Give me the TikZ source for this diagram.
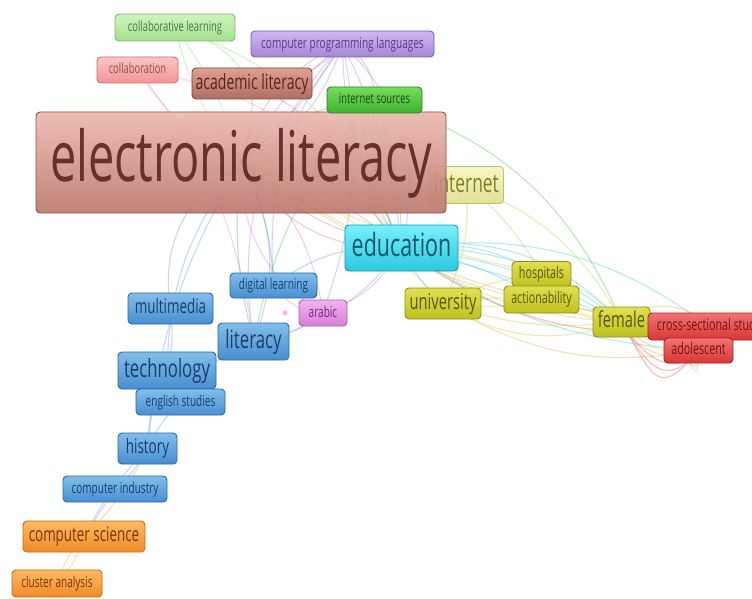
\documentclass[tikz,border=0pt]{standalone}
\usepackage{fontspec}
\setmainfont{Open Sans}
\usepackage{graphicx}
\newcommand{\sq}[1]{\scalebox{0.67}[1]{\rule[-0.24em]{0pt}{1.02em}#1}}
\definecolor{ePurple}{HTML}{A080E0}
\definecolor{eLgreen}{HTML}{90D878}
\definecolor{eGreen}{HTML}{40C040}
\definecolor{ePink}{HTML}{F09090}
\definecolor{eBrown}{HTML}{C08070}
\definecolor{eBlue}{HTML}{5A9AD8}
\definecolor{eMag}{HTML}{E070E0}
\definecolor{eCyan}{HTML}{30C8E0}
\definecolor{eYellow}{HTML}{C8C830}
\definecolor{eOrange}{HTML}{F0A040}
\definecolor{eRed}{HTML}{E84848}
\tikzset{
  kw/.style={rounded corners=4pt, line width=0.9pt, inner sep=0pt},
  fs/.style={font=\fontsize{#1}{#1}\selectfont},
  ed/.style={line width=1.1pt, opacity=0.36},
  kbrown/.style={top color={rgb,255:red,236;green,184;blue,174}, bottom color={rgb,255:red,186;green,118;blue,108}, draw={rgb,255:red,140;green,80;blue,72}, text={rgb,255:red,92;green,38;blue,32}},
  kbrown2/.style={top color={rgb,255:red,222;green,160;blue,146}, bottom color={rgb,255:red,176;green,110;blue,96}, draw={rgb,255:red,130;green,74;blue,64}, text={rgb,255:red,88;green,36;blue,30}},
  klgreen/.style={top color={rgb,255:red,206;green,244;blue,190}, bottom color={rgb,255:red,166;green,224;blue,142}, draw={rgb,255:red,124;green,184;blue,108}, text={rgb,255:red,72;green,122;blue,62}},
  kgreen/.style={top color={rgb,255:red,118;green,220;blue,96}, bottom color={rgb,255:red,62;green,178;blue,46}, draw={rgb,255:red,40;green,136;blue,30}, text={rgb,255:red,22;green,74;blue,14}},
  kpurple/.style={top color={rgb,255:red,208;green,184;blue,242}, bottom color={rgb,255:red,166;green,134;blue,214}, draw={rgb,255:red,124;green,94;blue,174}, text={rgb,255:red,88;green,58;blue,138}},
  kpink/.style={top color={rgb,255:red,252;green,196;blue,196}, bottom color={rgb,255:red,240;green,150;blue,150}, draw={rgb,255:red,208;green,112;blue,112}, text={rgb,255:red,160;green,72;blue,72}},
  kpale/.style={top color={rgb,255:red,246;green,246;blue,196}, bottom color={rgb,255:red,226;green,226;blue,150}, draw={rgb,255:red,190;green,190;blue,110}, text={rgb,255:red,126;green,126;blue,42}},
  kcyan/.style={top color={rgb,255:red,120;green,240;blue,250}, bottom color={rgb,255:red,44;green,200;blue,224}, draw={rgb,255:red,24;green,150;blue,176}, text={rgb,255:red,10;green,88;blue,110}},
  kyellow/.style={top color={rgb,255:red,224;green,224;blue,84}, bottom color={rgb,255:red,192;green,192;blue,30}, draw={rgb,255:red,144;green,144;blue,16}, text={rgb,255:red,88;green,88;blue,8}},
  kred/.style={top color={rgb,255:red,242;green,116;blue,116}, bottom color={rgb,255:red,216;green,54;blue,54}, draw={rgb,255:red,176;green,30;blue,30}, text={rgb,255:red,124;green,14;blue,14}},
  kblue/.style={top color={rgb,255:red,130;green,190;blue,234}, bottom color={rgb,255:red,72;green,142;blue,208}, draw={rgb,255:red,42;green,104;blue,166}, text={rgb,255:red,26;green,62;blue,110}},
  kmag/.style={top color={rgb,255:red,242;green,178;blue,242}, bottom color={rgb,255:red,214;green,126;blue,214}, draw={rgb,255:red,174;green,94;blue,174}, text={rgb,255:red,120;green,40;blue,120}},
  korange/.style={top color={rgb,255:red,255;green,186;blue,100}, bottom color={rgb,255:red,240;green,138;blue,40}, draw={rgb,255:red,200;green,106;blue,16}, text={rgb,255:red,120;green,56;blue,8}},
}
\begin{document}
\begin{tikzpicture}[x=1pt,y=-1pt]
\useasboundingbox[fill=white] (0,0) rectangle (752,599);
\path
 (175,27.5) coordinate (cl)
 (342.5,44) coordinate (cpl)
 (137.5,70) coordinate (collab)
 (252,83.5) coordinate (acad)
 (374.5,100) coordinate (isrc)
 (466.5,185) coordinate (inet)
 (241,162.5) coordinate (el)
 (401.5,248) coordinate (edu)
 (541.5,274) coordinate (hosp)
 (541.5,299.5) coordinate (act)
 (443,303.5) coordinate (univ)
 (621.5,322) coordinate (fem)
 (709,326.5) coordinate (css)
 (698.5,350.5) coordinate (adol)
 (273.5,285.5) coordinate (dl)
 (170.5,308.5) coordinate (mm)
 (323,313) coordinate (arab)
 (253.5,341.5) coordinate (lit)
 (167,370.5) coordinate (tech)
 (180.5,402) coordinate (eng)
 (147.5,448.5) coordinate (hist)
 (115,489) coordinate (ci)
 (84,536.5) coordinate (cs)
 (57,583.5) coordinate (ca);
% ---------- connectors
\foreach \b in {-25,-10,8,22}{\draw[ed,ePurple] (cpl) to[bend left=\b] (el);}
\foreach \b in {-15,10,30}{\draw[ed,ePurple] (cpl) to[bend left=\b] (edu);}
\draw[ed,ePurple] (cpl) to[bend right=25] (lit);
\draw[ed,ePurple] (cpl) to[bend right=20] (dl);
\draw[ed,ePurple] (cpl) to[bend left=25] (acad);
\draw[ed,ePurple] (cpl) to[bend left=30] (isrc);
\draw[ed,ePurple] (cpl) to[bend left=15] (arab);
\foreach \b in {-12,10}{\draw[ed,eLgreen] (cl) to[bend left=\b] (el);}
\draw[ed,eLgreen] (cl) to[bend left=25] (edu);
\draw[ed,eLgreen] (cl) to[bend left=20] (acad);
\foreach \b in {-35,-15,10}{\draw[ed,eGreen] (isrc) to[bend left=\b] (edu);}
\draw[ed,eGreen] (isrc) to[bend right=20] (el);
\draw[ed,eGreen] (isrc) to[bend right=15] (lit);
\draw[ed,eGreen] (isrc) to[bend left=25] (fem);
\draw[ed,ePink] (collab) to[bend right=15] (el);
\draw[ed,ePink] (collab) to[bend left=15] (lit);
\draw[ed,ePink] (collab) to[bend left=25] (edu);
\draw[ed,eBrown] (acad) to[bend left=10] (el);
\draw[ed,eBrown] (acad) to[bend left=20] (edu);
\foreach \b in {-30,-15,12,28}{\draw[ed,eBrown] (el) to[bend left=\b] (edu);}
\draw[ed,eBlue] (el) to[bend right=35] (mm);
\draw[ed,eBlue] (el) to[bend right=18] (tech);
\draw[ed,eBlue] (el) to[bend left=12] (dl);
\draw[ed,eBlue] (el) to[bend right=10] (lit);
\draw[ed,eBlue] (el) to[bend left=25] (lit);
\draw[ed,eBlue] (el) to[bend right=12] (hist);
\draw[ed,eBlue] (edu) to[bend left=20] (lit);
\draw[ed,eBlue] (edu) to[bend right=20] (dl);
\draw[ed,eBlue] (mm) to[bend left=10] (tech);
\draw[ed,eBlue] (tech) to (eng);
\draw[ed,eBlue] (eng) to[bend right=10] (hist);
\draw[ed,eBlue] (tech) to[bend right=12] (hist);
\draw[ed,eBlue] (hist) to[bend left=10] (ci);
\draw[ed,eBlue] (hist) to[bend right=8] (cs);
\draw[ed,eBlue] (ci) to (cs);
\draw[ed,eBlue] (lit) to[bend left=15] (tech);
\foreach \b in {-20,30}{\draw[ed,eMag] (arab) to[bend left=\b] (el);}
\draw[ed,eMag] (arab) to[bend right=20] (edu);
\draw[ed,eMag] (arab) to[bend left=15] (lit);
\draw[ed,eMag] (arab) to[bend left=25] (dl);
\draw[ed,eCyan] (edu) to[bend right=10] (univ);
\foreach \b in {5,12,20,28}{\draw[ed,eCyan] (edu) to[bend left=\b] (fem);}
\draw[ed,eCyan] (edu) to[bend left=22] (css);
\draw[ed,eCyan] (edu) to[bend left=10] (act);
\draw[ed,eCyan] (edu) to[bend left=18] (hosp);
\draw[ed,eCyan] (edu) to[bend right=15] (adol);
\draw[ed,eYellow] (inet) to[bend left=10] (hosp);
\draw[ed,eYellow] (inet) to[bend left=20] (fem);
\draw[ed,eYellow] (inet) to[bend left=15] (univ);
\draw[ed,eYellow] (inet) to[bend right=10] (el);
\foreach \b in {-25,-12,15}{\draw[ed,eYellow] (univ) to[bend left=\b] (fem);}
\draw[ed,eYellow] (univ) to[bend right=10] (act);
\draw[ed,eYellow] (univ) to[bend left=10] (hosp);
\draw[ed,eYellow] (el) to[bend right=12] (fem);
\draw[ed,eYellow] (el) to[bend left=12] (univ);
\draw[ed,eYellow] (el) to[bend right=8] (hosp);
\draw[ed,eYellow] (hosp) to[bend left=15] (fem);
\draw[ed,eYellow] (act) to[bend right=10] (fem);
\draw[ed,eYellow] (edu) to[bend right=15] (fem);
\foreach \b in {-45,-30,40}{\draw[ed,eOrange] (fem) to[bend left=\b] (adol);}
\foreach \l in {1.5,1.9,2.3}{\draw[ed,eOrange] (fem) to[out=45,in=-90,looseness=\l] (adol);}
\foreach \l in {1.2,1.6}{\draw[ed,eYellow] (fem) to[out=60,in=-80,looseness=\l] (adol);}
\draw[ed,eOrange] (fem) to[bend left=45] (css);
\draw[ed,eOrange] (univ) to[bend right=20] (adol);
\draw[ed,eOrange] (el) to[bend right=14] (css);
\foreach \b in {-12,12}{\draw[ed,eOrange] (cs) to[bend left=\b] (ca);}
\draw[ed,eOrange] (cs) to[bend right=10] (hist);
\foreach \b in {-40,35,60}{\draw[ed,eRed] (css) to[bend left=\b] (adol);}
\foreach \l in {1.2,1.6,2}{\draw[ed,eRed] (fem) to[out=-60,in=-130,looseness=\l] (adol);}
\draw[ed,eRed] (css) to[out=-120,in=-60,looseness=1.8] (adol);
\draw[ed,eRed] (edu) to[bend right=22] (css);
\fill[eMag,opacity=0.5] (285,313) circle (2.5);
% ---------- keyword boxes
\node[kw,kpale,fs=26,minimum width=74,minimum height=37] (n-inet) at (inet) {\sq{internet}};
\node[kw,kbrown,fill opacity=0.9,fs=70,minimum width=410,minimum height=101] (n-el) at (el) {\sq{electronic literacy}};
\node[kw,klgreen,fs=14,minimum width=120,minimum height=27] (n-cl) at (cl) {\sq{collaborative learning}};
\node[kw,kpurple,fs=15,minimum width=183,minimum height=26] (n-cpl) at (cpl) {\sq{computer programming languages}};
\node[kw,kpink,fs=14,minimum width=81,minimum height=26] (n-collab) at (collab) {\sq{collaboration}};
\node[kw,kbrown2,fs=21,minimum width=120,minimum height=31] (n-acad) at (acad) {\sq{academic literacy}};
\node[kw,kgreen,fs=14,minimum width=95,minimum height=26] (n-isrc) at (isrc) {\sq{internet sources}};
\node[kw,kcyan,fs=32,minimum width=113,minimum height=46] (n-edu) at (edu) {\sq{education}};
\node[kw,kyellow,fs=16,minimum width=59,minimum height=25] (n-hosp) at (hosp) {\sq{hospitals}};
\node[kw,kyellow,fs=16,minimum width=75,minimum height=27] (n-act) at (act) {\sq{actionability}};
\node[kw,kyellow,fs=22,minimum width=76,minimum height=31] (n-univ) at (univ) {\sq{university}};
\node[kw,kyellow,fs=22,minimum width=57,minimum height=30] (n-fem) at (fem) {\sq{female}};
\node[kw,kred,fs=16,minimum width=122,minimum height=27] (n-css) at (css) {\sq{cross-sectional study}};
\node[kw,kred,fs=16,minimum width=69,minimum height=25] (n-adol) at (adol) {\sq{adolescent}};
\node[kw,kblue,fs=15,minimum width=87,minimum height=25] (n-dl) at (dl) {\sq{digital learning}};
\node[kw,kblue,fs=20,minimum width=85,minimum height=31] (n-mm) at (mm) {\sq{multimedia}};
\node[kw,kmag,fs=15,minimum width=48,minimum height=26] (n-arab) at (arab) {\sq{arabic}};
\node[kw,kblue,fs=25,minimum width=71,minimum height=37] (n-lit) at (lit) {\sq{literacy}};
\node[kw,kblue,fs=25,minimum width=98,minimum height=37] (n-tech) at (tech) {\sq{technology}};
\node[kw,kblue,fs=15,minimum width=89,minimum height=26] (n-eng) at (eng) {\sq{english studies}};
\node[kw,kblue,fs=20,minimum width=59,minimum height=31] (n-hist) at (hist) {\sq{history}};
\node[kw,kblue,fs=15,minimum width=104,minimum height=26] (n-ci) at (ci) {\sq{computer industry}};
\node[kw,korange,fs=20,minimum width=122,minimum height=31] (n-cs) at (cs) {\sq{computer science}};
\node[kw,korange,fs=15,minimum width=90,minimum height=27] (n-ca) at (ca) {\sq{cluster analysis}};
\end{tikzpicture}
\end{document}
